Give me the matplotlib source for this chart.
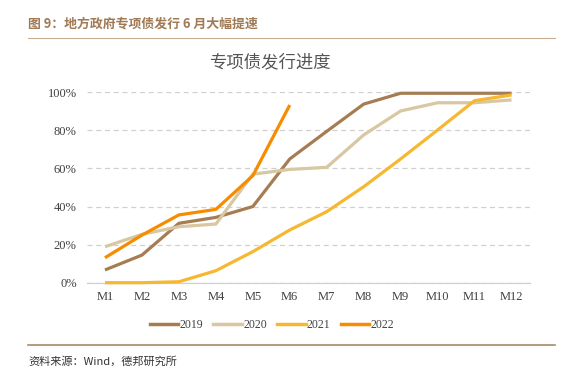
import matplotlib.pyplot as plt
from matplotlib.ticker import FuncFormatter
from matplotlib.lines import Line2D
import numpy as np

plt.rcParams['font.family'] = ['Noto Sans CJK SC', 'DejaVu Sans']

# --- データ ---
months = ['M1', 'M2', 'M3', 'M4', 'M5', 'M6', 'M7', 'M8', 'M9', 'M10', 'M11', 'M12']
years = ['2019', '2020', '2021', '2022']
v2019 = [6.7, 14.5, 31.2, 34.3, 40.0, 65.0, 79.5, 93.8, 99.5, 99.5, 99.5, 99.5]
v2020 = [18.9, 25.4, 29.4, 30.8, 57.0, 59.5, 60.6, 77.6, 90.2, 94.5, 94.5, 96.0]
v2021 = [0.0, 0.0, 0.5, 6.3, 16.3, 27.7, 37.3, 50.4, 65.0, 80.2, 95.6, 98.6]
v2022 = [13.1, 25.0, 35.6, 38.5, 56.2, 93.3]
colors = ['#A67C52', '#D8C7A0', '#F6B731', '#F88C00']

fig = plt.figure(figsize=(5.64, 3.78), dpi=100)
ax = fig.add_axes([86.5 / 564, 1 - 282.7 / 378, (530 - 86.5) / 564, (282.7 - 92.3) / 378])

x = np.arange(len(months))
for vals, c, lab in zip([v2019, v2020, v2021, v2022], colors, years):
    ax.plot(x[:len(vals)], np.array(vals) / 100, color=c, lw=2.3, label=lab,
            clip_on=False, zorder=3, solid_capstyle='butt')

ax.set_xlim(-0.5, 11.5)
ax.set_ylim(0, 1)
ax.set_yticks(np.arange(0, 1.01, 0.2))
ax.yaxis.set_major_formatter(FuncFormatter(lambda v, p: f'{int(round(v * 100))}%'))
ax.set_xticks(x)
ax.set_xticklabels(months)
for lbl in ax.get_xticklabels() + ax.get_yticklabels():
    lbl.set_family('Liberation Serif')
    lbl.set_fontsize(9)
    lbl.set_color('#404040')
ax.tick_params(axis='x', length=0, pad=6)
ax.tick_params(axis='y', length=0, pad=7)

# グリッド
ax.grid(axis='y', linestyle=(0, (4, 3)), color='#D0D0D0', lw=0.9)
for s in ['top', 'right', 'left']:
    ax.spines[s].set_visible(False)
ax.spines['bottom'].set_color('#D0D0D0')
ax.spines['bottom'].set_linewidth(0.9)

# 凡例
handles = [Line2D([0], [0], color=c, lw=2.5) for c in colors]
leg = fig.legend(handles, years, loc='center', bbox_to_anchor=(272 / 564, 1 - 325 / 378),
                 ncol=4, frameon=False, handlelength=2.4, handletextpad=0.1,
                 columnspacing=0.9, prop={'family': 'Liberation Serif', 'size': 8.5})
for t in leg.get_texts():
    t.set_color('#404040')

# タイトルなど
fig.text(28 / 564, 1 - 24 / 378, '图 9：地方政府专项债发行 6 月大幅提速', fontsize=9.3,
         fontweight='bold', color='#A07A55', ha='left', va='center')
fig.add_artist(Line2D([28 / 564, 555 / 564], [1 - 38 / 378] * 2, color='#C9AD90', lw=0.8))
fig.text(270 / 564, 1 - 62 / 378, '专项债发行进度', fontsize=12.5, color='#555555',
         ha='center', va='center')
fig.add_artist(Line2D([28 / 564, 555 / 564], [1 - 345 / 378] * 2, color='#A88B6A', lw=1.2))
fig.text(28 / 564, 1 - 361 / 378, '资料来源：Wind，德邦研究所', fontsize=8,
         color='#333333', ha='left', va='center')

fig.savefig('out.png', dpi=100)
